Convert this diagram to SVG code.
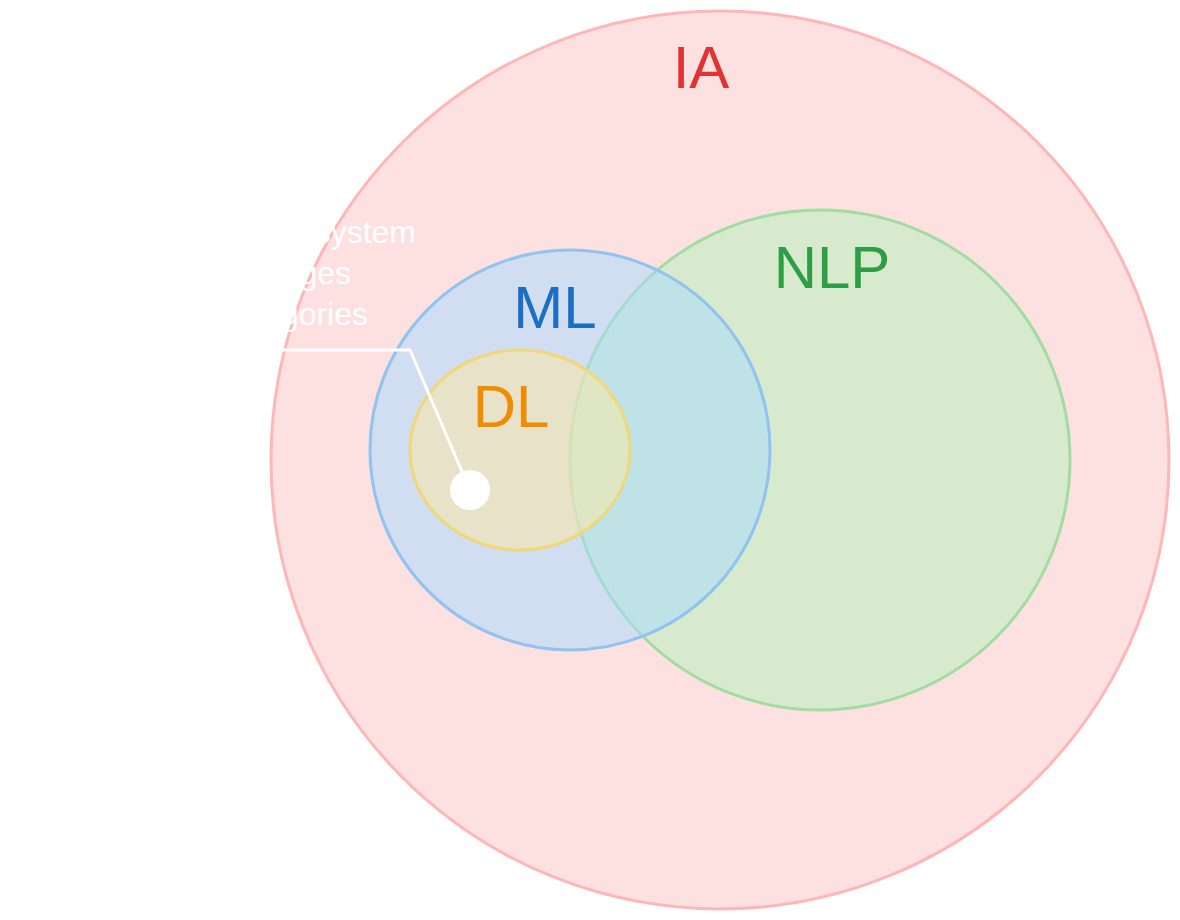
<svg xmlns="http://www.w3.org/2000/svg" width="1180" height="920" viewBox="0 0 1180 920">
  <style>
    .lbl { font-family: "Liberation Sans", Arial, sans-serif; font-size: 60px; text-anchor: middle; }
    .note { font-family: "Liberation Sans", Arial, sans-serif; font-size: 32px; fill: #ffffff; text-anchor: end; }
  </style>
  <rect width="1180" height="920" fill="#ffffff"/>
  <g id="ia">
    <circle cx="720" cy="460" r="449" fill="#fde1e1" stroke="#ffb6b6" stroke-width="3"/>
  </g>
  <g id="nlp">
    <circle cx="820" cy="460" r="250" fill="#b3f3bb" fill-opacity="0.5" stroke="#a3dca3" stroke-width="3"/>
  </g>
  <g id="ml">
    <circle cx="570" cy="450" r="200" fill="#a5d9ff" fill-opacity="0.5" stroke="#90c3f0" stroke-width="3"/>
  </g>
  <g id="dl">
    <ellipse cx="520" cy="450" rx="110" ry="100" fill="#ffeaa0" fill-opacity="0.5" stroke="#f0d878" stroke-width="3"/>
  </g>
  <g id="labels">
    <text class="lbl" x="701" y="88" fill="#e03333">IA</text>
    <text class="lbl" x="555" y="328" fill="#1a6fc4">ML</text>
    <text class="lbl" x="511" y="427" fill="#f08c00">DL</text>
    <text class="lbl" x="832" y="288" fill="#2e9e44">NLP</text>
  </g>
  <g id="connectors">
    <polyline points="120,350 410,350 463,474" fill="none" stroke="#ffffff" stroke-width="3"/>
    <circle cx="470" cy="490" r="20" fill="#ffffff"/>
  </g>
  <g id="note">
    <text class="note" x="416" y="243">A vision system</text>
    <text class="note" x="351" y="284">sorting images</text>
    <text class="note" x="368" y="325">into categories</text>
  </g>
</svg>
